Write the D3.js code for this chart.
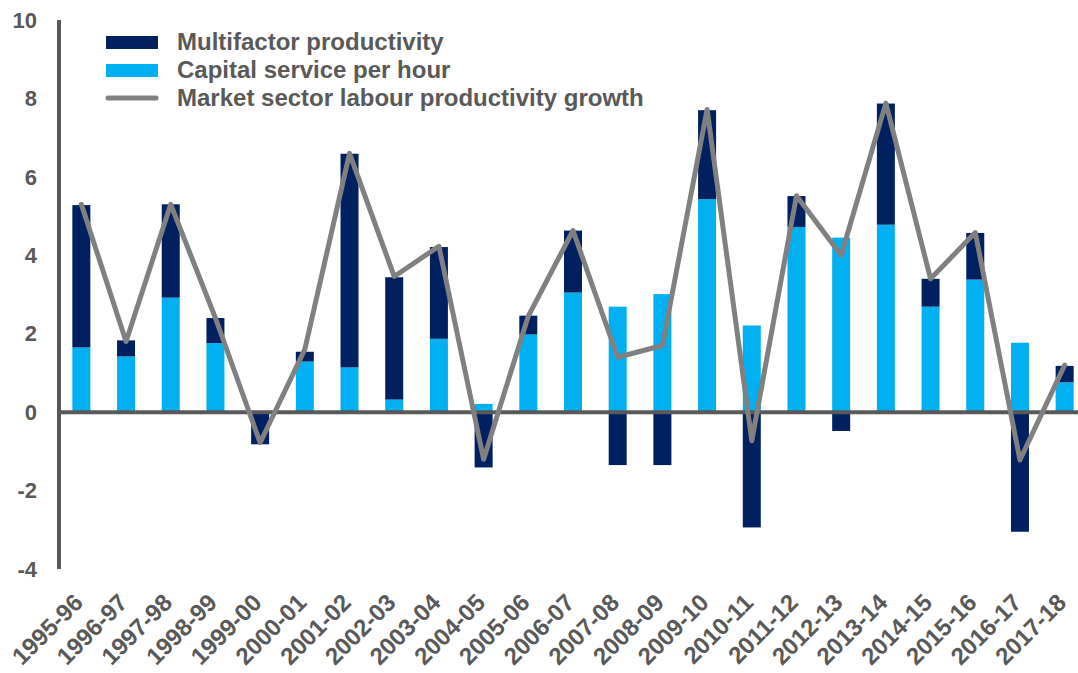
<!DOCTYPE html>
<html><head><meta charset="utf-8">
<script src="https://cdn.jsdelivr.net/npm/d3@7"></script>
<style>body{margin:0;background:#fff}svg{display:block;font-family:"Liberation Sans",Arial,sans-serif;font-weight:bold}</style>
</head><body>
<svg id="c" width="1078" height="673"></svg>
<script>
const categories = ["1995-96","1996-97","1997-98","1998-99","1999-00","2000-01","2001-02","2002-03","2003-04","2004-05","2005-06","2006-07","2007-08","2008-09","2009-10","2010-11","2011-12","2012-13","2013-14","2014-15","2015-16","2016-17","2017-18"];
const capital = [1.65,1.42,2.92,1.76,0,1.29,1.14,0.32,1.87,0.21,1.98,3.05,2.69,3.01,5.43,2.21,4.72,4.45,4.78,2.69,3.38,1.77,0.76];
const mfp = [3.63,0.41,2.38,0.64,-0.82,0.25,5.45,3.12,2.34,-1.41,0.48,1.58,-1.35,-1.35,2.27,-2.94,0.79,-0.48,3.09,0.71,1.19,-3.05,0.42];
const labour = [5.3,1.8,5.3,2.4,-0.78,1.6,6.6,3.46,4.23,-1.2,2.45,4.63,1.4,1.7,7.72,-0.73,5.52,4.0,7.88,3.4,4.58,-1.22,1.2];
const yTicks = [-4,-2,0,2,4,6,8,10];
const seriesNames = ["Multifactor productivity","Capital service per hour","Market sector labour productivity growth"];

const svg = d3.select("#c");
const grey = "#595959";
const x = d3.scaleBand().domain(categories).range([59, 1087]).paddingInner(0.6).paddingOuter(0.3);
const y = d3.scaleLinear().domain([-4, 10]).range([569, 20]);

const rows = categories.map((c,i)=>({cat:c, capital:capital[i], mfp:mfp[i]}));
const stack = d3.stack().keys(["capital","mfp"]).offset(d3.stackOffsetDiverging)(rows);
const colors = {capital:"#00B0F0", mfp:"#002060"};

const bw = 18;
stack.forEach(s=>{
  svg.append("g").selectAll("rect").data(s).join("rect")
    .attr("x", d=>x(d.data.cat)+x.bandwidth()/2-bw/2)
    .attr("width", bw)
    .attr("y", d=>y(Math.max(d[0],d[1])))
    .attr("height", d=>Math.abs(y(d[0])-y(d[1])))
    .attr("fill", colors[s.key]);
});

// axes
svg.append("line").attr("x1",59).attr("x2",1078).attr("y1",y(0)).attr("y2",y(0)).attr("stroke",grey).attr("stroke-width",4);
svg.append("line").attr("x1",59).attr("x2",59).attr("y1",y(10)).attr("y2",y(-4)).attr("stroke",grey).attr("stroke-width",4);

svg.append("g").selectAll("text").data(yTicks).join("text")
  .attr("x",37).attr("y",d=>y(d)).attr("dy","0.35em").attr("text-anchor","end")
  .attr("font-size",22).attr("fill",grey).text(d=>d);

// line
const line = d3.line().x((d,i)=>x(categories[i])+x.bandwidth()/2).y(d=>y(d));
svg.append("path").datum(labour).attr("d",line).attr("fill","none").attr("stroke","#808080").attr("stroke-width",5).attr("stroke-linejoin","round").attr("stroke-linecap","round");

// x labels
svg.append("g").selectAll("text").data(categories).join("text")
  .attr("transform",d=>`translate(${x(d)+x.bandwidth()/2+3},${604}) rotate(-45)`)
  .attr("text-anchor","end").attr("font-size",24).attr("fill",grey).text(d=>d);

// legend
const lg = svg.append("g");
lg.append("rect").attr("x",106).attr("y",36).attr("width",52).attr("height",13).attr("fill",colors.mfp);
lg.append("rect").attr("x",106).attr("y",64).attr("width",52).attr("height",13).attr("fill",colors.capital);
lg.append("line").attr("x1",108).attr("x2",156).attr("y1",98).attr("y2",98).attr("stroke","#808080").attr("stroke-width",5).attr("stroke-linecap","round");
lg.selectAll("text.l").data(seriesNames).join("text").attr("class","l")
  .attr("x",177).attr("y",(d,i)=>50+i*28).attr("font-size",24).attr("fill",grey).text(d=>d);
</script>
</body></html>
